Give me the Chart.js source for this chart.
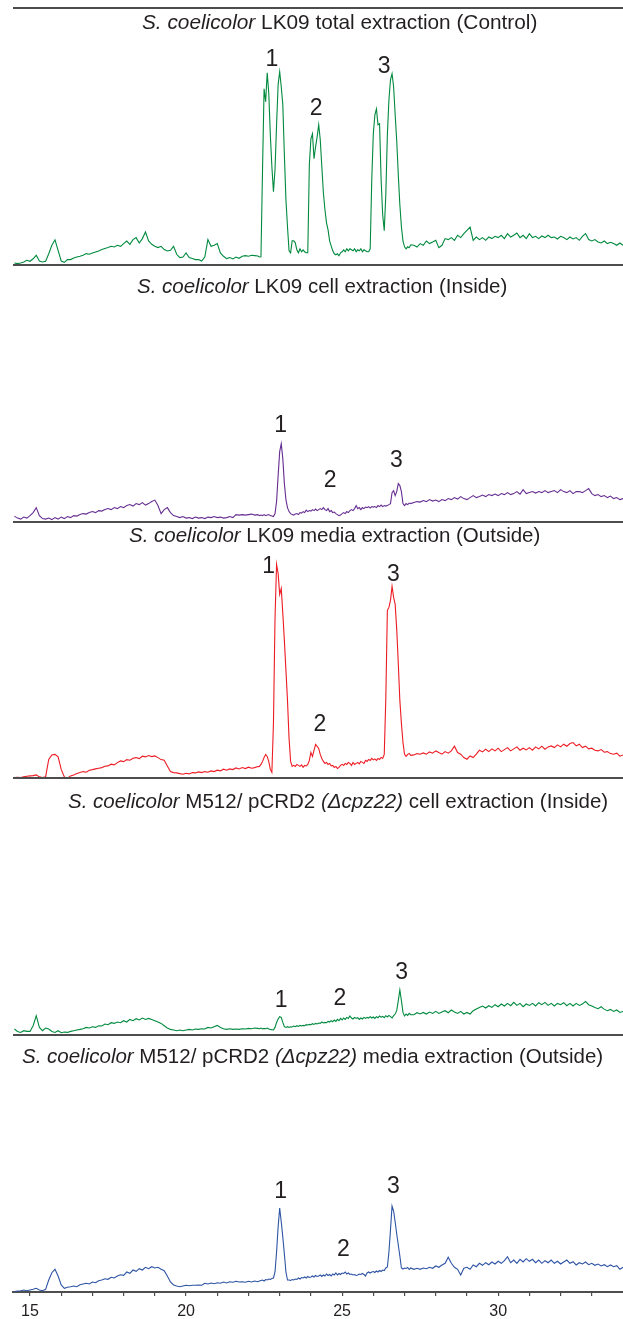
<!DOCTYPE html>
<html>
<head>
<meta charset="utf-8">
<title>HPLC chromatograms – S. coelicolor extractions</title>
<script src="https://cdn.jsdelivr.net/npm/chart.js@4.4.1/dist/chart.umd.min.js"></script>
<style>
  html, body { margin: 0; padding: 0; background: #ffffff; }
  #stage { position: relative; width: 623px; height: 1319px; overflow: hidden; }
  #chromatograms { position: absolute; left: 0; top: 0; }
  .panel-title {
    position: absolute;
    white-space: nowrap;
    font-family: "Liberation Sans", Arial, sans-serif;
    font-size: 20.5px;
    line-height: 1;
    color: #231f20;
  }
</style>
</head>
<body>
<div id="stage">
  <canvas id="chromatograms" width="623" height="1319"></canvas>
</div>
<script>
// Retention-time sampling: coarse outside the peak window, finer inside it.
const samplingSegments = [[14.5, 22.3, 0.1], [22.35, 27.2, 0.05], [27.3, 34.0, 0.1]];

// Absorbance traces (arbitrary units), one value per sampling time.
const lk09Total = [
  // 14.5 – 22.3 min
  1.8, 1.2, 1.8, 2.8, 4.5,
  3.5, 6, 9.5, 3.8, 2.8, 3.5, 11, 19.5, 25, 14.5,
  3.8, 2.5, 5.2, 5.2, 6.8, 7.8, 8.5, 9.5, 11.2, 10.5,
  11.8, 12.8, 13.8, 15.2, 16.2, 17.2, 18.5, 17.8, 19.5, 18.5,
  21.2, 23.8, 20.5, 25.2, 27.2, 21.8, 26.2, 32.8, 23.8, 20.5,
  18.5, 17.2, 18.5, 15.2, 13.8, 14.5, 18.5, 10.5, 7.2, 7.8,
  11.8, 7.2, 6.2, 5.2, 5.2, 3.8, 7.8, 25.2, 18.5, 19.5,
  21.2, 11.8, 8.5, 6.2, 7.2, 5.8, 7.8, 6.5, 8.5, 9.2,
  8.5, 9.5, 9.2, 8.8,
  // 22.35 – 27.2 min
  7.8, 8, 95, 176, 163, 192, 172, 130, 98, 73, 95, 140, 180,
  193, 178, 160, 110, 65, 38, 14, 12, 24, 24, 22, 15, 12, 16, 13, 15, 13, 12, 12, 100,
  126, 131, 106, 118, 128, 140, 125, 98, 72, 55, 42, 35, 24, 19, 14, 11, 10, 11, 9, 12,
  13, 15, 13, 16, 14, 16, 15, 14, 16, 13, 15, 14, 16, 13, 15, 14, 13, 13, 16, 85,
  131, 150, 156, 140, 141, 85, 50, 34, 70, 130, 165, 185, 191, 178, 150, 124, 90, 60, 38, 24,
  18, 16, 18, 17, 20,
  // 27.3 – 34.0 min
  19.5, 17.8, 21.2, 19.5, 23.8, 21.2, 22.8,
  24.5, 17.2, 19.5, 26.2, 25.2, 27.2, 24.5, 29.5, 27.2, 31.2,
  34.5, 37.8, 24.5, 27.8, 25.2, 27.2, 24.5, 27.8, 26.2, 28.5,
  27.2, 29.5, 26.2, 31.2, 27.8, 29.5, 31.8, 27.2, 29.5, 26.2,
  31.2, 27.2, 28.5, 26.2, 28.8, 27.2, 29.5, 27.2, 27.8, 25.8,
  28.5, 27.2, 25.2, 27.8, 25.8, 27.2, 24.5, 28.5, 31.2, 25.2,
  23.8, 25.2, 22.8, 21.8, 23.8, 21.2, 22.5, 21.2, 19.5, 21.8,
  19.5
];

const lk09Cell = [
  // 14.5 – 22.3 min
  5.5, 3.5, 2.5, 4.5, 3.5,
  6, 9, 14, 6, 3, 2.5, 3.5, 2, 4, 2.5,
  4.5, 3, 5, 4, 6, 5.5, 7, 8, 7.5, 9,
  10, 9, 11, 10.5, 12, 13, 12, 14, 13, 15,
  14, 16, 17, 15.5, 18, 17, 19, 16.5, 18, 20,
  21.5, 16, 8, 12, 14, 9, 6, 5, 4, 5,
  3.5, 4, 3, 4.5, 3.5, 4, 3, 4.5, 4, 5,
  4, 4.5, 3.5, 4, 5, 4, 7, 6.5, 7, 6.5,
  7, 7.5, 6.5, 7,
  // 22.35 – 27.2 min
  6, 6.5, 6, 7, 6, 6.5, 7, 6, 5.5, 5, 8, 20, 46,
  70, 78, 63, 38, 22, 14, 10, 8, 7, 6.5, 7.5, 8, 7, 9, 8.5, 10, 9, 11.5, 10, 11,
  10.5, 12, 11, 12.5, 11, 12, 13, 12, 14, 12, 11, 13, 10, 11, 9, 9.5, 8, 7, 6, 6.5,
  8, 9, 8, 10, 9, 11, 12, 11, 13, 16, 13, 14, 12, 14, 13, 14.5, 14, 15, 13.5, 15,
  14.5, 15, 14, 16, 15, 16.5, 15, 16, 15.5, 16, 17, 18, 29, 31, 26, 30, 38, 36, 30, 18,
  16, 18, 17, 18.5, 18,
  // 27.3 – 34.0 min
  19, 20, 19.5, 21, 20, 22, 20.5,
  21.5, 20, 22, 21, 23, 22, 24, 22.5, 25, 23,
  22, 24, 26, 24, 25, 26.5, 25, 27, 26, 27.5,
  26, 28, 27, 29, 27, 28, 30, 27.5, 32, 28,
  29, 30, 28.5, 30, 29, 31, 29, 30, 31, 29,
  32, 30, 29, 31, 28, 30, 30, 29, 31, 33,
  28, 26, 27, 25, 26, 24, 25.5, 23, 24, 22,
  23
];

const lk09Media = [
  // 14.5 – 22.3 min
  0.8, 1.2, 0.8, 1.5, 2.2,
  2.5, 2.8, 3.5, 1.5, 0.8, 1.5, 19, 23.5, 24, 21.5,
  9, 1.5, 0.2, 2.5, 3.5, 4.8, 5.8, 6.8, 6.2, 8.2,
  8.8, 9.5, 10.2, 10.8, 12.2, 12.5, 14.2, 13.5, 15.8, 17.5,
  16.8, 18.8, 18.2, 20.2, 20.8, 19.8, 22.2, 21.5, 22.8, 21.8,
  22.5, 20.8, 18.8, 18.2, 12.5, 6.8, 5.8, 5.5, 4.8, 4.2,
  5.2, 4.5, 5.8, 5.5, 6.5, 5.8, 6.8, 6.2, 7.5, 6.8,
  8.2, 7.5, 9.2, 8.2, 9.5, 8.8, 10.5, 9.5, 10.8, 9.8,
  11.2, 10.2, 10.8, 11.8,
  // 22.35 – 27.2 min
  12, 14, 17, 21, 24, 22, 17, 9, 6, 55, 160, 214, 205,
  184, 190, 165, 138, 108, 78, 40, 17, 12, 13, 12, 14, 13, 12, 13.5, 11, 13, 12.5, 14, 18,
  26, 22, 28, 34, 32, 30, 24, 20, 17, 15, 16, 14, 15, 12.5, 13, 11, 12, 10, 11, 13,
  14, 13, 15, 14, 16, 15, 13, 16, 14, 15, 16, 14.5, 17, 16, 15, 18, 17, 19, 18, 20,
  18.5, 19.5, 18, 20, 19, 21, 20, 24, 80, 168, 171, 178, 192, 181, 174, 149, 115, 78, 55, 36,
  24, 22, 24, 25, 23,
  // 27.3 – 34.0 min
  23.5, 24.8, 24.2, 25.5, 24.2, 26.5, 25.2,
  27.5, 25.8, 24.2, 26.8, 25.2, 27.5, 32.2, 25.8, 24.2, 20.8,
  19.2, 22.5, 20.8, 24.2, 28.2, 26.5, 29.2, 26.8, 29.5, 27.5,
  30.2, 26.8, 28.8, 30.8, 27.5, 29.5, 31.5, 28.2, 30.2, 28.5,
  30.8, 28.2, 31.5, 29.5, 32.2, 29.2, 31.5, 32.5, 30.8, 33.5,
  31.5, 34.2, 32.2, 34.8, 35.8, 32.5, 34.2, 30.8, 32.2, 29.5,
  30.2, 28.2, 27.5, 28.8, 26.2, 26.8, 24.8, 24.2, 25.2, 22.2,
  23.5
];

const m512Cell = [
  // 14.5 – 22.3 min
  6.2, 3.8, 2.8, 4.5, 3.8,
  3.8, 9.5, 19.5, 7.8, 4.5, 7.2, 6.2, 3.8, 2.8, 4.5,
  2.5, 3.2, 2.8, 3.8, 4.5, 5.2, 5.8, 6.5, 7.8, 7.2,
  8.5, 7.8, 9.5, 9.2, 11.2, 10.5, 12.5, 11.8, 13.2, 12.5,
  14.5, 13.2, 15.8, 14.5, 16.5, 15.2, 17.2, 15.8, 16.8, 15.8,
  14.5, 13.2, 11.8, 9.5, 7.2, 5.8, 5.2, 4.5, 5.2, 4.5,
  5.2, 5.8, 5.2, 6.2, 5.8, 6.5, 6.2, 7.8, 7.2, 8.5,
  9.8, 7.8, 6.5, 5.8, 6.5, 5.8, 6.2, 5.8, 6.5, 6.2,
  6.8, 6.5, 7.2, 6.8,
  // 22.35 – 27.2 min
  6.5, 7.2, 6.2, 6.8, 6.5, 7.2, 6.2, 5.8, 5.5, 5.2, 7.8, 12.8, 16.2,
  18.5, 17.8, 12.8, 8.5, 7.8, 8.5, 7.8, 8.5, 8.2, 9.2, 8.5, 9.5, 8.8, 9.8, 9.2, 9.8, 9.5, 10.5, 10.2, 10.8,
  10.5, 11.5, 10.8, 11.8, 11.2, 12.2, 11.8, 13.2, 12.2, 12.8, 12.5, 13.8, 13.2, 14.5, 13.5, 15.2, 13.8, 15.8, 14.5, 16.8,
  15.2, 17.2, 15.8, 17.8, 16.8, 19.2, 17.2, 16.2, 17.8, 16.8, 17.5, 15.8, 17.2, 16.2, 17.8, 16.8, 17.8, 17.2, 18.5, 17.2,
  18.2, 16.8, 18.5, 17.5, 19.2, 18, 18.8, 17.5, 19.5, 18.2, 19.8, 18.5, 17.2, 19.5, 21.2, 24.5, 34.5, 45.2, 34.5, 22.8,
  19.2, 21.2, 19.8, 21.8, 20.5,
  // 27.3 – 34.0 min
  20.5, 22.5, 21.2, 22.8, 21.2, 23.2, 21.8,
  23.8, 21.8, 23.2, 24.5, 22.5, 25.2, 23.2, 21.8, 23.8, 21.2,
  22.8, 21.2, 24.5, 26.2, 27.8, 29.2, 27.2, 29.5, 27.8, 30.5,
  28.5, 31.2, 29.2, 31.8, 29.5, 32.8, 29.8, 31.8, 28.5, 31.2,
  29.8, 31.8, 29.2, 32.5, 30.5, 32.8, 29.8, 31.8, 29.2, 31.8,
  30.5, 32.5, 29.5, 31.8, 29.2, 31.8, 29.8, 31.2, 33.8, 30.5,
  29.2, 27.8, 26.5, 28.5, 25.8, 24.5, 25.8, 23.8, 25.2, 22.8,
  23.8
];

const m512Media = [
  // 14.5 – 22.3 min
  0.5, 1, 1.3, 2, 1.3,
  2, 2.7, 3.7, 2, 1.3, 2.7, 12, 19.3, 22.7, 16,
  7, 3.7, 4.7, 5.3, 6, 5.3, 7.3, 8, 8.7, 8,
  10, 9.3, 11.3, 12, 13.3, 12.7, 14.7, 14, 16, 17.3,
  16.7, 20, 18.7, 22, 20.7, 23.3, 22, 24.7, 23.3, 25.3,
  24, 24.7, 22.7, 21.3, 16, 10, 7, 6, 5.3, 6,
  6.7, 6.3, 6.7, 6.7, 7, 6.7, 8.7, 8, 9, 8.3,
  9.3, 8.7, 10, 9, 10.3, 9.7, 10.7, 10, 10.3, 9.7,
  10.7, 10, 11, 10.3,
  // 22.35 – 27.2 min
  11, 11.5, 12, 11, 12.5, 12, 13, 12.5, 13.5, 14, 20, 40, 65,
  84, 70, 55, 38, 20, 12, 12, 11.5, 12.5, 12, 13, 12.5, 14, 13, 14.5, 14, 15, 14, 15.5, 14.5,
  15, 16, 15, 16.5, 15.5, 16, 17, 15.5, 17, 16, 18, 16.5, 17.5, 16, 18, 17, 19, 17, 18.5, 17.5,
  19, 18.5, 20, 18, 19, 17.5, 18, 17, 17.5, 16.5, 17, 18, 17.5, 18.5, 17.5, 16, 19, 20, 19, 20,
  20.5, 19.5, 21, 20, 21.5, 20.5, 22, 21.5, 24, 25, 40, 62, 86, 81, 70, 58, 47, 36, 24, 23,
  24, 23.5, 24.5, 22.5, 24,
  // 27.3 – 34.0 min
  22.7, 23.7, 22.7, 24, 23.3, 24.7, 23.7,
  26, 24.7, 27, 28.7, 34.7, 28.7, 24.7, 22.7, 17, 23.7,
  24.7, 22.7, 27, 25.3, 28.7, 26.7, 29.3, 27.3, 30, 28,
  30.7, 28.7, 31.3, 35.3, 29.3, 32, 28.7, 32.7, 30, 33.3,
  30.7, 32.7, 29.3, 32, 28.7, 31.3, 29.3, 32, 28.7, 30.7,
  28, 30, 32, 28.7, 30.3, 27, 29.3, 28, 30, 27.3,
  28.7, 26.7, 28, 26, 27.3, 25.3, 27, 25.3, 26.3, 22.7,
  24.7
];

// Peak numbering (retention time, height) for each trace, top to bottom.
const peakNumbers = [
  [['1', 22.75, 205], ['2', 24.17, 156], ['3', 26.35, 198]],
  [['1', 23.03, 96], ['2', 24.62, 41], ['3', 26.74, 61]],
  [['1', 22.65, 212], ['2', 24.29, 54], ['3', 26.64, 204]],
  [['1', 23.05, 35], ['2', 24.93, 37], ['3', 26.91, 63]],
  [['1', 23.03, 100], ['2', 25.04, 42], ['3', 26.64, 105]]
];

// Axis ticks (minutes).
const minuteTicks = [15, 16, 17, 18, 19, 20, 21, 22, 23, 24, 25, 26, 27, 28, 29, 30, 31, 32, 33];
const labelledTicks = [15, 20, 25, 30];

// Panel titles: [text, italic] runs.
const panelTitles = [
  [['S. coelicolor', true], [' LK09 total extraction (Control)', false]],
  [['S. coelicolor', true], [' LK09 cell extraction (Inside)', false]],
  [['S. coelicolor', true], [' LK09 media extraction (Outside)', false]],
  [['S. coelicolor', true], [' M512/ pCRD2 ', false], ['(Δcpz22)', true], [' cell extraction (Inside)', false]],
  [['S. coelicolor', true], [' M512/ pCRD2 ', false], ['(Δcpz22)', true], [' media extraction (Outside)', false]]
];

const traces = [lk09Total, lk09Cell, lk09Media, m512Cell, m512Media];
const traceColors = ['#008a3e', '#662d91', '#ed1c24', '#008a3e', '#2e54a4'];
// [left, top, font size] of each title
const titlePlacement = [[142, 12.3, 20.8], [137, 275.5, 20.5], [129, 525, 20.5], [68, 790.5, 20.5], [22, 1046, 20.5]];

const frameColor = '#4d4d4d';
const textColor = '#231f20';
const fontFamily = '"Liberation Sans", Arial, Helvetica, sans-serif';
const panelSpan = 256.8;   // vertical units per panel
const xRange = [14.455, 34.0];

function buildMinutes() {
  const out = [];
  for (const [start, end, step] of samplingSegments) {
    const n = Math.round((end - start) / step);
    for (let k = 0; k <= n; k++) out.push(Math.round((start + k * step) * 100) / 100);
  }
  return out;
}
const minutes = buildMinutes();
traces.forEach((tr, i) => {
  if (tr.length !== minutes.length) throw new Error('trace ' + i + ' has ' + tr.length + ' points, expected ' + minutes.length);
});

// Titles as HTML text
const stage = document.getElementById('stage');
panelTitles.forEach((runs, i) => {
  const div = document.createElement('div');
  div.className = 'panel-title';
  div.style.left = titlePlacement[i][0] + 'px';
  div.style.top = titlePlacement[i][1] + 'px';
  div.style.fontSize = titlePlacement[i][2] + 'px';
  runs.forEach(([text, italic]) => {
    const el = document.createElement(italic ? 'i' : 'span');
    el.textContent = text;
    div.appendChild(el);
  });
  stage.appendChild(div);
});

// One hidden y axis per panel, shifted so its zero sits on that panel's baseline.
const yScales = {};
traces.forEach((_, i) => {
  yScales['y' + i] = {
    type: 'linear',
    display: false,
    min: -(traces.length - 1 - i) * panelSpan,
    max: (i + 1) * panelSpan
  };
});

const panelFrame = {
  id: 'panelFrame',
  afterDatasetsDraw(chart) {
    const { ctx, chartArea, scales } = chart;
    ctx.save();
    ctx.strokeStyle = frameColor;
    ctx.lineWidth = 2;
    const rows = [chartArea.top];
    for (let i = 0; i < traces.length - 1; i++) rows.push(scales['y' + i].getPixelForValue(0));
    rows.forEach(y => {
      const yy = Math.round(y);
      ctx.beginPath();
      ctx.moveTo(chartArea.left, yy);
      ctx.lineTo(chartArea.right, yy);
      ctx.stroke();
    });
    ctx.fillStyle = textColor;
    ctx.font = '23px ' + fontFamily;
    ctx.textAlign = 'center';
    ctx.textBaseline = 'middle';
    peakNumbers.forEach((marks, i) => {
      marks.forEach(([label, t, v]) => {
        ctx.fillText(label, scales.x.getPixelForValue(t), scales['y' + i].getPixelForValue(v));
      });
    });
    ctx.restore();
  }
};

new Chart(document.getElementById('chromatograms'), {
  type: 'line',
  data: {
    datasets: traces.map((tr, i) => ({
      data: minutes.map((t, k) => ({ x: t, y: tr[k] })),
      yAxisID: 'y' + i,
      borderColor: traceColors[i],
      borderWidth: 1.1,
      pointRadius: 0,
      tension: 0,
      fill: false
    }))
  },
  options: {
    responsive: false,
    animation: false,
    devicePixelRatio: 1,
    layout: { padding: { left: 13, top: 8, right: 0, bottom: 0 } },
    plugins: { legend: { display: false }, tooltip: { enabled: false } },
    scales: Object.assign({
      x: {
        type: 'linear',
        min: xRange[0],
        max: xRange[1],
        afterBuildTicks: scale => { scale.ticks = minuteTicks.map(value => ({ value })); },
        afterFit: scale => { scale.height = 27; },
        ticks: {
          autoSkip: false,
          maxRotation: 0,
          padding: 6,
          color: textColor,
          font: { family: fontFamily, size: 16 },
          callback: value => (labelledTicks.includes(value) ? String(value) : '')
        },
        grid: {
          display: true,
          drawOnChartArea: false,
          drawTicks: true,
          tickLength: 4,
          color: frameColor,
          lineWidth: 1.2
        },
        border: { display: true, color: frameColor, width: 2 }
      }
    }, yScales)
  },
  plugins: [panelFrame]
});
</script>
</body>
</html>
